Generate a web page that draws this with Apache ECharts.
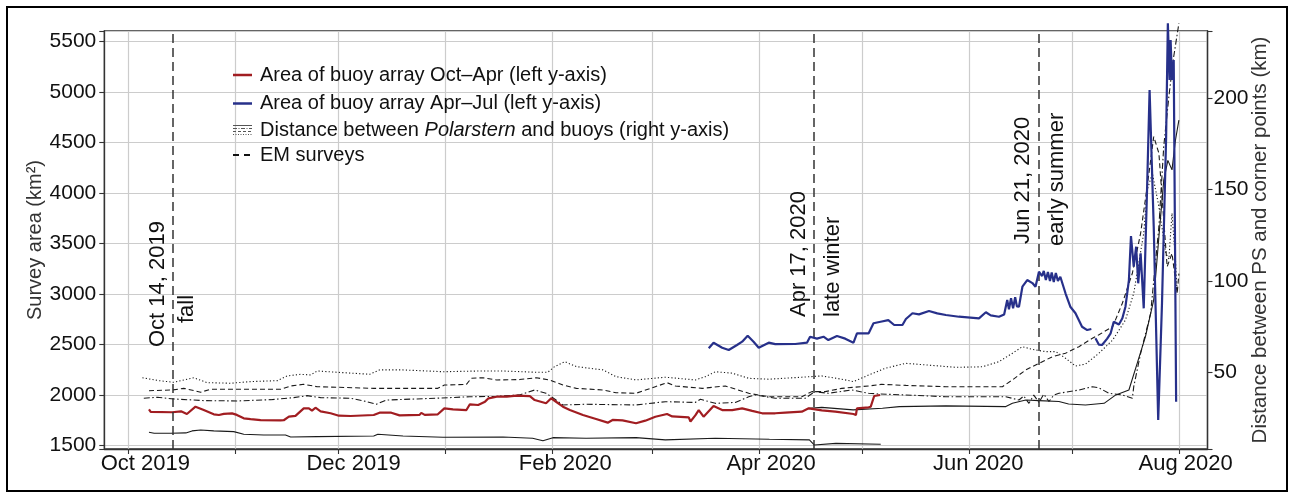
<!DOCTYPE html>
<html><head><meta charset="utf-8">
<script src="https://cdn.jsdelivr.net/npm/echarts@6/dist/echarts.min.js"></script>
<style>html,body{margin:0;padding:0;background:#fff}#c{width:1290px;height:494px}</style>
</head><body><div id="c"></div>
<script>
// ---- data (day = days after 2019-10-01 UTC) ----
const areaOctApr = [[6.0,1860],[6.5,1835],[12.7,1831],[15.3,1840],[17.0,1814],[19.5,1886],[21.9,1853],[24.8,1811],[26.3,1804],[27.7,1815],[30.1,1820],[31.5,1805],[33.5,1771],[35.5,1764],[38.4,1754],[44.2,1750],[45.1,1752],[46.6,1787],[48.5,1795],[50.9,1870],[52.4,1870],[53.3,1847],[54.3,1876],[55.8,1840],[58.7,1821],[61.1,1797],[64.5,1794],[71.2,1804],[72.9,1827],[76.3,1827],[78.7,1800],[84.5,1805],[85.0,1825],[86.0,1805],[89.8,1811],[91.7,1870],[94.2,1860],[98.1,1853],[99.1,1910],[101.5,1903],[103.5,1936],[104.5,1969],[106.9,1985],[109.8,1985],[112.6,1995],[116.5,1990],[117.9,1952],[121.2,1920],[122.7,1969],[124.1,1935],[126.1,1886],[128.1,1853],[131.9,1804],[135.7,1764],[139.1,1728],[140.5,1755],[143.4,1750],[147.3,1722],[150.0,1748],[152.9,1787],[156.3,1814],[157.8,1790],[162.6,1781],[163.1,1740],[164.5,1800],[165.5,1853],[166.9,1787],[169.8,1893],[172.3,1853],[175.2,1853],[178.1,1870],[181.0,1845],[183.9,1821],[187.7,1821],[190.6,1828],[195.4,1837],[197.4,1870],[201.2,1850],[205.1,1837],[210.4,1814],[211.1,1804],[211.4,1870],[214.8,1880],[215.4,1886],[216.4,1992],[218.1,2002]];
const areaAprJul = [[168.4,2464],[169.8,2520],[172.3,2470],[174.2,2447],[176.6,2497],[178.1,2530],[179.7,2589],[181.4,2530],[182.9,2470],[185.8,2520],[187.7,2505],[193.5,2507],[196.9,2520],[197.8,2579],[199.8,2560],[201.7,2579],[203.1,2546],[205.6,2586],[208.0,2560],[210.4,2520],[211.4,2613],[214.8,2613],[216.2,2712],[218.6,2730],[220.5,2744],[222.2,2695],[224.6,2695],[225.6,2754],[227.5,2811],[229.4,2800],[232.3,2834],[234.7,2810],[237.2,2794],[241.0,2777],[246.8,2761],[248.8,2821],[250.2,2790],[252.6,2777],[254.1,2800],[255.0,2942],[255.5,2850],[256.1,2960],[256.7,2860],[257.3,2970],[257.8,2880],[258.4,2876],[259.4,3074],[260.8,3140],[262.3,3110],[263.2,3074],[264.2,3223],[265.1,3180],[265.6,3230],[266.2,3140],[266.8,3220],[267.4,3130],[267.9,3215],[268.5,3120],[269.1,3210],[269.7,3130],[270.4,3173],[271.9,3009],[273.3,2876],[274.8,2811],[276.7,2678],[278.2,2645],[279.4,2655],[280.0,null],[280.6,2563],[281.6,2500],[282.5,2497],[284.0,2560],[285.0,2613],[285.9,2728],[287.4,2700],[288.4,2761],[289.3,2876],[290.3,3140],[290.9,3576],[291.7,3272],[292.4,3470],[293.0,3108],[293.7,3405],[294.6,2860],[295.6,4081],[296.3,5022],[297.5,3668],[298.8,1754],[299.9,2910],[301.1,4560],[301.6,5682],[302.1,5121],[302.4,5516],[302.8,5121],[303.3,5318],[304.0,1936]];
const distDotted = [[4.1,47.0],[8.9,45.4],[13.2,44.5],[19.0,47.0],[22.9,44.3],[29.7,44.0],[35.5,44.9],[43.2,45.4],[46.1,48.0],[50.0,48.9],[52.9,48.5],[54.8,50.7],[60.6,50.0],[68.3,49.1],[70.0,48.9],[72.9,51.3],[79.6,51.3],[91.3,50.3],[101.9,50.7],[108.7,50.7],[118.4,50.0],[121.7,50.0],[123.7,53.1],[126.6,55.8],[130.0,53.1],[137.7,51.3],[141.5,47.6],[147.3,45.8],[155.8,47.3],[164.5,45.8],[167.4,47.6],[170.3,50.3],[175.2,49.5],[180.0,46.7],[185.8,46.2],[195.4,47.3],[201.2,48.0],[207.0,46.2],[210.4,44.9],[214.8,48.5],[219.6,52.2],[225.6,54.9],[240.1,52.7],[247.8,53.0],[252.6,55.8],[256.5,60.4],[259.4,64.0],[262.3,62.5],[266.2,61.3],[269.1,61.3],[271.9,57.7],[274.8,53.4],[277.7,54.5],[281.6,60.4],[285.6,67.7],[289.3,78.6],[291.7,93.2],[294.6,126.1],[295.6,149.8],[297.1,158.9],[299.0,140.7],[301.0,115.1],[301.9,112],[302.8,137.1],[303.8,111.5],[304.3,93.2]];
const distDashed = [[6.0,39.9],[12.7,40.3],[16.1,41.2],[21.0,39.1],[23.9,40.7],[33.5,40.7],[44.2,40.7],[47.1,42.5],[50.9,43.4],[54.8,42.1],[60.6,41.8],[71.2,41.2],[79.6,41.2],[89.8,41.2],[91.7,43.0],[98.1,43.4],[99.5,46.7],[102.9,47.0],[106.9,45.8],[113.5,46.0],[118.4,47.0],[122.2,45.8],[126.1,43.0],[130.0,41.2],[137.7,40.3],[141.5,38.8],[147.3,38.5],[152.9,42.1],[156.3,44.3],[158.7,42.5],[166.5,41.2],[173.2,42.5],[180.0,38.5],[185.8,36.6],[195.4,36.6],[198.3,39.4],[202.2,39.4],[207.0,41.2],[214.8,42.5],[218.6,43.4],[225.6,42.8],[237.2,42.1],[253.6,42.1],[256.5,45.8],[260.4,51.3],[264.2,54.9],[268.1,58.5],[271.9,60.4],[275.8,64.0],[279.7,68.6],[281.6,70.5],[285.6,75.0],[288.4,87.8],[291.3,104.2],[293.7,126.1],[295.6,151.6],[297.5,179.0],[299.0,169.9],[300.4,133.4],[301.4,107.8],[302.8,115.1],[304.3,93.2],[304.8,104]];
const distDashDot = [[4.5,35.8],[8.4,36.3],[13.2,35.4],[21.9,34.5],[31.6,34.3],[41.3,35.0],[48.0,36.1],[51.9,37.2],[55.8,36.1],[64.5,35.8],[68.3,34.3],[72.0,32.5],[74.9,34.8],[89.4,35.8],[99.0,36.6],[106.9,36.8],[113.5,37.6],[117.9,40.3],[121.2,38.5],[124.1,34.8],[126.1,32.1],[132.8,32.5],[147.3,32.1],[155.8,33.9],[164.5,33.5],[166.0,35.2],[170.3,33.0],[176.1,33.5],[180.0,36.6],[181.9,37.6],[187.7,35.8],[196.4,35.8],[199.2,39.4],[203.1,38.5],[209.9,40.3],[214.8,38.5],[217.9,38.1],[225.4,37.6],[237.2,36.6],[254.6,36.6],[258.4,34.8],[259.8,37],[261.3,33],[262.7,37.5],[264.2,33.5],[265.6,38],[267.1,34],[268.5,37.5],[270.0,38.5],[275.8,40.3],[279.7,42.1],[281.6,41.5],[284.5,38.5],[288.4,37.6],[291.3,35.8],[291.7,42.1],[293.7,60.4],[296.6,82.3],[299.0,129.7],[300.4,173.5],[301.9,201],[303.3,222.8],[304.8,241]];
const distSolidOctApr = [[6.0,17.2],[7.5,16.6],[12.3,16.6],[16.7,16.8],[18.5,17.9],[21.0,18.4],[24.8,17.9],[30.6,17.5],[33.5,16.1],[39.3,15.7],[45.6,15.7],[47.1,14.6],[54.8,14.8],[71.2,15.1],[72.4,16.1],[79.7,15.1],[91.3,14.4],[108.7,14.6],[117.3,13.9],[120.3,12.5],[123.2,14.2],[132.8,13.9],[147.3,14.2],[155.8,13.0],[170.3,13.9],[186.0,13.3],[197.6,13.0],[199.0,10.2],[205.3,11.1],[218.3,10.6]];
const distSolidAprJul = [[197.4,30.3],[201.2,30.8],[210.3,29.4],[218.8,30.3],[223.7,31.2],[237.2,31.6],[254.6,31.2],[256.5,33.0],[260.4,34.8],[264.2,34.5],[270.0,34.0],[272.8,32.6],[277.7,32.1],[283.1,33.0],[286.5,37.6],[290.3,40.3],[292.7,54.9],[295.1,69.5],[297.5,89.6],[299.0,124.2],[300.4,155],[301.6,166],[302.8,160.8],[303.8,177],[304.8,188]];
const emDates = ['2019-10-14','2020-04-17','2020-06-21'];
const emLabels = [['Oct 14, 2019','fall'],['Apr 17, 2020','late winter'],['Jun 21, 2020','early summer']];
const xTickMonths = ['2019-10','2019-12','2020-02','2020-04','2020-06','2020-08'];
const xTickLabels = ['Oct 2019','Dec 2019','Feb 2020','Apr 2020','Jun 2020','Aug 2020'];
const leftTicks = [1500,2000,2500,3000,3500,4000,4500,5000,5500];
const rightTicks = [50,100,150,200];
const legendLabels = ['Area of buoy array Oct\u2013Apr (left y-axis)','Area of buoy array Apr\u2013Jul (left y-axis)',['Distance between ','Polarstern',' and buoys (right y-axis)'],'EM surveys'];

// ---- build ----
const DAY = 86400000, T0 = Date.UTC(2019,9,1);
const toT = d => T0 + d*DAY;
const conv = arr => arr.map(p => [toT(p[0]), p[1] === null ? '-' : p[1]]);
const FONT = '"Liberation Sans", Arial, Helvetica, sans-serif';
const INK = '#1a1a1a';
const labOffsets = [17,15,13,12,9,6];
const rich = {};
labOffsets.forEach((o,i)=>{ rich['l'+i] = {fontSize:22, fontFamily:FONT, color:'#111', padding:[0,0,0,2*o]}; });

const chart = echarts.init(document.getElementById('c'), null, {renderer:'canvas'});
function distSeries(name, data, type){
  return {name, type:'line', yAxisIndex:1, data:conv(data), showSymbol:false, symbol:'none', clip:false,
    lineStyle:{color:INK, width:1.1, type:type}, z:2, animation:false};
}
chart.setOption({
  animation:false,
  useUTC:true,
  textStyle:{fontFamily:FONT},
  grid:{left:104.3, right:82.5, top:31, bottom:45, show:true, borderColor:'#333', borderWidth:1.3, backgroundColor:'transparent', containLabel:false, outerBoundsMode:'none'},
  xAxis:{type:'time', min:toT(-6.96), max:toT(313.1), minInterval:28*DAY, maxInterval:31*DAY, splitNumber:11,
    axisLine:{show:true, lineStyle:{color:'#333', width:1.3}},
    axisTick:{show:true, length:5, lineStyle:{color:'#333', width:1.1}},
    axisLabel:{margin:4, fontSize:22, color:'#111', fontFamily:FONT, hideOverlap:false, rich,
      formatter:(v)=>{const d=new Date(v); if(d.getUTCDate()!==1||d.getUTCHours()!==0) return '';
        const k=d.getUTCFullYear()+'-'+String(d.getUTCMonth()+1).padStart(2,'0'); const i=xTickMonths.indexOf(k);
        return i<0?'':'{l'+i+'|'+xTickLabels[i]+'}';}},
    splitLine:{show:true, lineStyle:{color:'#cccccc', width:1.2}}},
  yAxis:[
    {type:'value', position:'left', min:1467.3, max:5605.9, splitNumber:8,
      axisLine:{show:true, lineStyle:{color:'#333', width:1.3}},
      axisTick:{show:true, length:5, lineStyle:{color:'#333', width:1.1}},
      axisLabel:{margin:8, fontSize:21, color:'#111', fontFamily:FONT, formatter:v=>leftTicks.includes(Math.round(v)) && Math.abs(v-Math.round(v))<1e-6 ? String(Math.round(v)) : ''},
      splitLine:{show:true, lineStyle:{color:'#cccccc', width:1.2}},
      name:'Survey area (km\u00b2)', nameLocation:'middle', nameGap:59, nameMoveOverlap:false, nameTextStyle:{fontSize:20, color:'#333', fontFamily:FONT}},
    {type:'value', position:'right', min:8.0, max:236.8, splitNumber:5,
      axisLine:{show:true, lineStyle:{color:'#333', width:1.3}},
      axisTick:{show:true, length:5, lineStyle:{color:'#333', width:1.1}},
      axisLabel:{margin:6, fontSize:21, color:'#111', fontFamily:FONT, formatter:v=>rightTicks.includes(v)?String(v):''},
      splitLine:{show:false},
      name:'Distance between PS and corner points (km)', nameLocation:'middle', nameGap:42, nameMoveOverlap:false, nameTextStyle:{fontSize:20.5, color:'#333', fontFamily:FONT}}
  ],
  series:[
    distSeries('dotted', distDotted, [1.2,2.2]),
    distSeries('dashed', distDashed, [5,3]),
    distSeries('dashdot', distDashDot, [6,2.5,1.5,2.5]),
    distSeries('solid1', distSolidOctApr, 'solid'),
    distSeries('solid2', distSolidAprJul, 'solid'),
    {name:'red', type:'line', yAxisIndex:0, data:conv(areaOctApr), showSymbol:false, symbol:'none', lineStyle:{color:'#a11d21', width:2.2}, z:4},
    {name:'blue', type:'line', yAxisIndex:0, data:conv(areaAprJul), showSymbol:false, symbol:'none', clip:false, connectNulls:false, lineStyle:{color:'#27308a', width:2.2}, z:5,
      markLine:{silent:true, symbol:['none','none'], label:{show:false}, lineStyle:{color:'#333', width:1.5, type:[9,5]},
        data: emDates.map(s=>({xAxis: Date.parse(s+'T00:00:00Z')}))}}
  ]
});

// ---- annotations, legend, frame ----
const g = [];
g.push({type:'rect', shape:{x:7, y:7, width:1280, height:484}, style:{fill:'none', stroke:'#000', lineWidth:2}, silent:true});
// EM survey labels (rotated)
const annot = [[-15,347,14,323],[-15.5,317,18.7,317],[-15.3,244,19,246]];
emDates.forEach((s,i)=>{
  const px = chart.convertToPixel({xAxisIndex:0}, Date.parse(s+'T00:00:00Z'));
  const a = annot[i];
  g.push({type:'text', x:px+a[0], y:a[1], rotation:Math.PI/2, style:{text:emLabels[i][0], fill:'#111', fontSize:22, fontFamily:FONT, align:'left', verticalAlign:'middle'}, z:10});
  g.push({type:'text', x:px+a[2], y:a[3], rotation:Math.PI/2, style:{text:emLabels[i][1], fill:'#111', fontSize:22, fontFamily:FONT, align:'left', verticalAlign:'middle'}, z:10});
});
// legend
const LX1=233, LX2=252, TX=260, LY=[75,103.5,130,155];
g.push({type:'line', shape:{x1:LX1,y1:LY[0],x2:LX2,y2:LY[0]}, style:{stroke:'#a11d21', lineWidth:2.5}});
g.push({type:'line', shape:{x1:LX1,y1:LY[1],x2:LX2,y2:LY[1]}, style:{stroke:'#27308a', lineWidth:2.5}});
[[-4.5,null],[-1.5,[4,1.5,1,1.5]],[1.5,[3,2]],[4.5,[1,1.5]]].forEach(o=>{
  g.push({type:'line', shape:{x1:LX1,y1:LY[2]+o[0],x2:LX2,y2:LY[2]+o[0]}, style:{stroke:'#555', lineWidth:1, lineDash:o[1]||null}});
});
g.push({type:'line', shape:{x1:LX1,y1:LY[3],x2:LX2,y2:LY[3]}, style:{stroke:'#111', lineWidth:2, lineDash:[6,5]}});
g.push({type:'text', x:TX, y:LY[0], style:{text:legendLabels[0], fontSize:20, fontFamily:FONT, fill:'#111', verticalAlign:'middle'}});
g.push({type:'text', x:TX, y:LY[1], style:{text:legendLabels[1], fontSize:20, fontFamily:FONT, fill:'#111', verticalAlign:'middle'}});
g.push({type:'text', x:TX, y:LY[2], style:{text:'{n|'+legendLabels[2][0]+'}{i|'+legendLabels[2][1]+'}{n|'+legendLabels[2][2]+'}', fill:'#111', verticalAlign:'middle',
  rich:{n:{fontSize:20, fontFamily:FONT, fill:'#111'}, i:{fontSize:20, fontFamily:FONT, fontStyle:'italic', fill:'#111'}}}});
g.push({type:'text', x:TX, y:LY[3], style:{text:legendLabels[3], fontSize:20, fontFamily:FONT, fill:'#111', verticalAlign:'middle'}});
chart.setOption({graphic:g});
</script></body></html>
